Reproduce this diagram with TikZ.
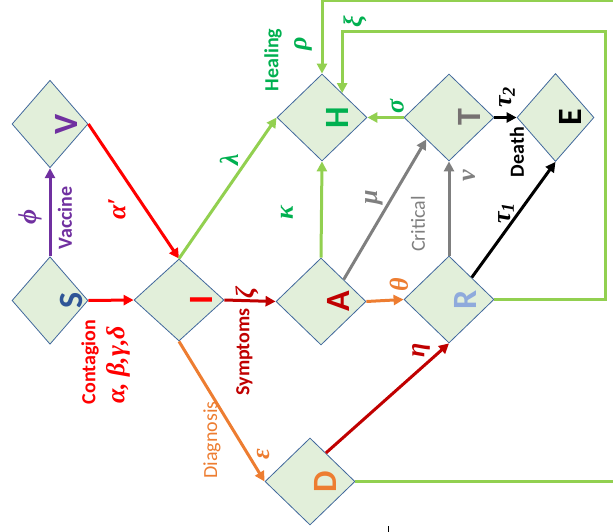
\documentclass[tikz,border=0pt]{standalone}
\usepackage{fontspec}
\setmainfont{Carlito}
\newfontfamily\gk{Liberation Serif}
\usetikzlibrary{shapes.geometric,arrows.meta,calc}
\definecolor{cpurple}{HTML}{7030A0}
\definecolor{cred}{HTML}{FF0000}
\definecolor{cdred}{HTML}{C00000}
\definecolor{corange}{HTML}{ED7D31}
\definecolor{clgreen}{HTML}{92D050}
\definecolor{cgreen}{HTML}{00B050}
\definecolor{cgray}{HTML}{7F7F7F}
\definecolor{dfill}{HTML}{E2EFDA}
\definecolor{dborder}{HTML}{41689C}
\definecolor{cblue}{HTML}{2F5597}
\definecolor{clblue}{HTML}{8FAADC}
\definecolor{ctgray}{HTML}{767171}
\begin{document}
\begin{tikzpicture}[x=1pt,y=-1pt,
  dia/.style={diamond, draw=dborder, fill=dfill, line width=0.8pt, inner sep=0pt, minimum width=90pt, minimum height=87pt},
  narrow/.style={minimum width=76pt, minimum height=87.5pt},
  ltr/.style={rotate=90, font=\fontsize{34}{34}\selectfont\bfseries, inner sep=0pt},
  conn/.style={line width=3pt, -{Triangle[length=10pt,width=10pt]}},
  word/.style={rotate=90, font=\fontsize{20}{20}\selectfont\bfseries, inner sep=0pt},
  wordr/.style={rotate=90, font=\fontsize{20}{20}\selectfont, inner sep=0pt},
  gr/.style={rotate=90, font=\gk\fontsize{26}{26}\selectfont\bfseries\itshape, inner sep=0pt},
]
\useasboundingbox (0,0) rectangle (613,532);
\clip (0,0) rectangle (613,532);
% diamonds
\node[dia,narrow] (V) at (50,124) {};
\node[dia,narrow] (S) at (50,300.5) {};
\node[dia,minimum width=90pt,minimum height=82pt] (I) at (179,300) {};
\node[dia] (H) at (322,117.5) {};
\node[dia] (T) at (449,117.5) {};
\node[dia,minimum width=77pt,minimum height=88pt] (E) at (555.5,117.5) {};
\node[dia] (A) at (321,301.5) {};
\node[dia] (R) at (449,299.5) {};
\node[dia] (D) at (310,481.5) {};
% letters
\node[ltr,text=cpurple] (tV) at (66,124) {V};
\node[ltr,text=cblue] (tS) at (71,300.5) {S};
\node[ltr,text=cred] (tI) at (201,300) {I};
\node[ltr,text=cgreen] (tH) at (337,117.5) {H};
\node[ltr,text=ctgray] (tT) at (469,117.5) {T};
\node[ltr,text=black] (tE) at (570,117.5) {E};
\node[ltr,text=cdred] (tA) at (338,301.5) {A};
\node[ltr,text=clblue] (tR) at (465,299.5) {R};
\node[ltr,text=corange] (tD) at (325,481.5) {D};
% helper coordinates
\coordinate (Ane) at ($(A.north)!0.5!(A.east)$);
\coordinate (Tsw) at ($(T.west)!0.5!(T.south)$);
\coordinate (Rne) at ($(R.north)!0.5!(R.east)$);
\coordinate (Dne) at ($(D.north)!0.35!(D.east)$);
\coordinate (Hxi) at ($(H.north)!0.444!(H.east)$);
\coordinate (xiC) at (605,32);
\coordinate (rhoC) at (640,1);
% connectors
\draw[conn,cpurple] (S.north) -- (V.south);
\draw[conn,cred] (S.east) -- (I.west);
\draw[conn,cred] (V.east) -- (I.north);
\draw[conn,clgreen] (I.north) -- (H.west);
\draw[conn,cdred] (I.east) -- (A.west);
\draw[conn,corange] (I.south) -- (D.west);
\draw[conn,clgreen] (A.north) -- (H.south);
\draw[conn,cgray] (Ane) -- (Tsw);
\draw[conn,corange] (A.east) -- (R.west);
\draw[conn,cgray] (R.north) -- (T.south);
\draw[conn,black] (Rne) -- (E.south);
\draw[conn,black] (T.east) -- (E.west);
\draw[conn,clgreen] (T.west) -- (H.east);
\draw[conn,cdred] (Dne) -- (R.south);
\draw[conn,clgreen] (R.east) -| (xiC) -| (Hxi);
\draw[conn,clgreen] (D.east) -| (rhoC) -| (H.north);
% labels
\node[word,text=cpurple] (lVac) at (65,218) {Vaccine};
\node[gr,text=cpurple] (lphi) at (30,217) {ϕ};
\node[word,text=cred] (lCon) at (90,362) {Contagion};
\node[gr,text=cred] (labg) at (118,365) {α, β,γ,δ};
\node[gr,text=cred] (lap) at (117,209) {α′};
\node[gr,text=cgreen] (llam) at (229,160) {λ};
\node[word,text=cdred] (lSym) at (244.5,352) {Symptoms};
\node[gr,text=cdred] (lzeta) at (247,293) {ζ};
\node[wordr,text=corange] (lDia) at (212,440) {Diagnosis};
\node[gr,text=corange] (leps) at (263,454) {ε};
\node[gr,text=cgreen] (lkap) at (287,213) {κ};
\node[gr,text=cgray] (lmu) at (374,197) {μ};
\node[wordr,text=cgray] (lCri) at (418,224) {Critical};
\node[gr,text=corange] (lth) at (399,285) {θ};
\node[gr,text=cgray] (lnu) at (469,176) {ν};
\node[gr,text=black] (lt1) at (506,213) {τ\textsubscript{1}};
\node[gr,text=black] (lt2) at (507,97) {τ\textsubscript{2}};
\node[word,text=black] (lDea) at (517,152) {Death};
\node[gr,text=cgreen] (lsig) at (397,106) {σ};
\node[gr,text=cgreen] (lrho) at (303,44) {ρ};
\node[word,text=cgreen] (lHea) at (273,60) {Healing};
\node[gr,text=cgreen] (lxi) at (355,22) {ξ};
\node[gr,text=cdred] (leta) at (421,350) {η};
% small tick at bottom
\draw[line width=1.5pt] (388.5,526) -- (388.5,532);
\end{tikzpicture}
\end{document}
